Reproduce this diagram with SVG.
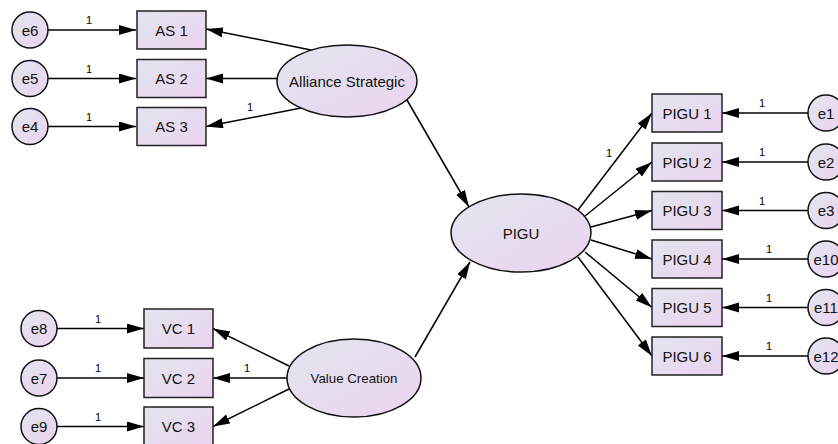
<svg xmlns="http://www.w3.org/2000/svg" width="838" height="444" viewBox="0 0 838 444">
  <defs>
    <linearGradient id="fill" x1="0" y1="0" x2="1" y2="1">
      <stop offset="0" stop-color="#e1e6ee"/>
      <stop offset="1" stop-color="#ecd3f1"/>
    </linearGradient>
    <marker id="arrow" markerUnits="userSpaceOnUse" markerWidth="18" markerHeight="11" refX="17" refY="5" orient="auto">
      <path d="M0,0 L17,5 L0,10 z" fill="#000"/>
    </marker>
    <style>
      .box { fill: url(#fill); stroke: #222; stroke-width: 1.5; }
      .lat { fill: url(#fill); stroke: #111; stroke-width: 1.5; }
      .err { fill: url(#fill); stroke: #111; stroke-width: 1.5; }
      .t { font-family: "Liberation Sans", Arial, sans-serif; font-size: 15px; fill: #111; text-anchor: middle; dominant-baseline: central; }
      .ts { font-family: "Liberation Sans", Arial, sans-serif; font-size: 13.3px; fill: #111; text-anchor: middle; dominant-baseline: central; }
      .w { font-family: "Liberation Sans", Arial, sans-serif; font-size: 11px; fill: #000; text-anchor: middle; }
      .c line { stroke: #000; stroke-width: 1.5; marker-end: url(#arrow); }
    </style>
  </defs>

  <!-- connectors -->
  <g id="connectors" class="c">
    <!-- errors to Alliance Strategic indicators -->
    <line x1="48" y1="30" x2="136" y2="30"/>
    <line x1="48" y1="78.5" x2="136" y2="78.5"/>
    <line x1="48" y1="126.5" x2="136" y2="126.5"/>
    <!-- Alliance Strategic loadings -->
    <line x1="311" y1="50" x2="206" y2="29"/>
    <line x1="277" y1="78.5" x2="206" y2="78.5"/>
    <line x1="301" y1="108" x2="206" y2="126.5"/>
    <!-- errors to Value Creation indicators -->
    <line x1="57" y1="328.5" x2="144" y2="328.5"/>
    <line x1="57" y1="378" x2="144" y2="378"/>
    <line x1="57" y1="426.5" x2="144" y2="426.5"/>
    <!-- Value Creation loadings -->
    <line x1="289" y1="366" x2="213" y2="328.5"/>
    <line x1="287" y1="378" x2="213" y2="378"/>
    <line x1="289" y1="389" x2="213" y2="426.5"/>
    <!-- structural paths -->
    <line x1="407" y1="100" x2="469" y2="207"/>
    <line x1="415" y1="357" x2="470" y2="262"/>
    <!-- PIGU loadings -->
    <line x1="578" y1="210" x2="652" y2="113"/>
    <line x1="585" y1="216" x2="652" y2="162"/>
    <line x1="591" y1="227" x2="652" y2="210.5"/>
    <line x1="591" y1="240" x2="652" y2="259"/>
    <line x1="585" y1="252" x2="652" y2="307.5"/>
    <line x1="578" y1="257" x2="652" y2="356"/>
    <!-- errors to PIGU indicators -->
    <line x1="808" y1="113" x2="722" y2="113"/>
    <line x1="808" y1="162" x2="722" y2="162"/>
    <line x1="808" y1="210.5" x2="722" y2="210.5"/>
    <line x1="808" y1="259" x2="722" y2="259"/>
    <line x1="808" y1="307.5" x2="722" y2="307.5"/>
    <line x1="808" y1="356" x2="722" y2="356"/>
  </g>

  <!-- path weights -->
  <g id="weights">
    <text class="w" x="89" y="24">1</text>
    <text class="w" x="89" y="72.5">1</text>
    <text class="w" x="89" y="120.5">1</text>
    <text class="w" x="250" y="111">1</text>
    <text class="w" x="98" y="323">1</text>
    <text class="w" x="98" y="372">1</text>
    <text class="w" x="98" y="420.5">1</text>
    <text class="w" x="247" y="372">1</text>
    <text class="w" x="609" y="157">1</text>
    <text class="w" x="762" y="107">1</text>
    <text class="w" x="762" y="156">1</text>
    <text class="w" x="762" y="204.5">1</text>
    <text class="w" x="769" y="253">1</text>
    <text class="w" x="769" y="301.5">1</text>
    <text class="w" x="769" y="350">1</text>
  </g>

  <!-- latent variables -->
  <g id="alliance-strategic">
    <ellipse class="lat" cx="347" cy="81" rx="70" ry="36"/>
    <text class="t" x="347" y="81">Alliance Strategic</text>
  </g>
  <g id="value-creation">
    <ellipse class="lat" cx="354" cy="378" rx="67" ry="39"/>
    <text class="ts" x="354" y="378">Value Creation</text>
  </g>
  <g id="pigu">
    <ellipse class="lat" cx="521" cy="233" rx="70" ry="39"/>
    <text class="t" x="521" y="233">PIGU</text>
  </g>

  <!-- observed indicators -->
  <g id="as1"><rect class="box" x="137" y="11" width="69" height="38"/><text class="t" x="171.5" y="30">AS 1</text></g>
  <g id="as2"><rect class="box" x="137" y="59.5" width="69" height="38"/><text class="t" x="171.5" y="78.5">AS 2</text></g>
  <g id="as3"><rect class="box" x="137" y="107.5" width="69" height="38"/><text class="t" x="171.5" y="126.5">AS 3</text></g>
  <g id="vc1"><rect class="box" x="144" y="309" width="69" height="39"/><text class="t" x="178.5" y="328.5">VC 1</text></g>
  <g id="vc2"><rect class="box" x="144" y="358.5" width="69" height="39"/><text class="t" x="178.5" y="378">VC 2</text></g>
  <g id="vc3"><rect class="box" x="144" y="407" width="69" height="39"/><text class="t" x="178.5" y="426.5">VC 3</text></g>
  <g id="pigu1"><rect class="box" x="652" y="94" width="70" height="38"/><text class="t" x="687" y="113">PIGU 1</text></g>
  <g id="pigu2"><rect class="box" x="652" y="143" width="70" height="38"/><text class="t" x="687" y="162">PIGU 2</text></g>
  <g id="pigu3"><rect class="box" x="652" y="191.5" width="70" height="38"/><text class="t" x="687" y="210.5">PIGU 3</text></g>
  <g id="pigu4"><rect class="box" x="652" y="240" width="70" height="38"/><text class="t" x="687" y="259">PIGU 4</text></g>
  <g id="pigu5"><rect class="box" x="652" y="288.5" width="70" height="38"/><text class="t" x="687" y="307.5">PIGU 5</text></g>
  <g id="pigu6"><rect class="box" x="652" y="337" width="70" height="38"/><text class="t" x="687" y="356">PIGU 6</text></g>

  <!-- error terms -->
  <g id="e6"><circle class="err" cx="30" cy="30" r="18"/><text class="t" x="30" y="30">e6</text></g>
  <g id="e5"><circle class="err" cx="30" cy="78.5" r="18"/><text class="t" x="30" y="78.5">e5</text></g>
  <g id="e4"><circle class="err" cx="30" cy="126.5" r="18"/><text class="t" x="30" y="126.5">e4</text></g>
  <g id="e8"><circle class="err" cx="39" cy="328.5" r="18"/><text class="t" x="39" y="328.5">e8</text></g>
  <g id="e7"><circle class="err" cx="39" cy="378" r="18"/><text class="t" x="39" y="378">e7</text></g>
  <g id="e9"><circle class="err" cx="39" cy="426.5" r="18"/><text class="t" x="39" y="426.5">e9</text></g>
  <g id="e1"><circle class="err" cx="826" cy="113" r="18"/><text class="t" x="826" y="113">e1</text></g>
  <g id="e2"><circle class="err" cx="826" cy="162" r="18"/><text class="t" x="826" y="162">e2</text></g>
  <g id="e3"><circle class="err" cx="826" cy="210.5" r="18"/><text class="t" x="826" y="210.5">e3</text></g>
  <g id="e10"><circle class="err" cx="826" cy="259" r="18"/><text class="t" x="826" y="259">e10</text></g>
  <g id="e11"><circle class="err" cx="826" cy="307.5" r="18"/><text class="t" x="826" y="307.5">e11</text></g>
  <g id="e12"><circle class="err" cx="826" cy="356" r="18"/><text class="t" x="826" y="356">e12</text></g>
</svg>
